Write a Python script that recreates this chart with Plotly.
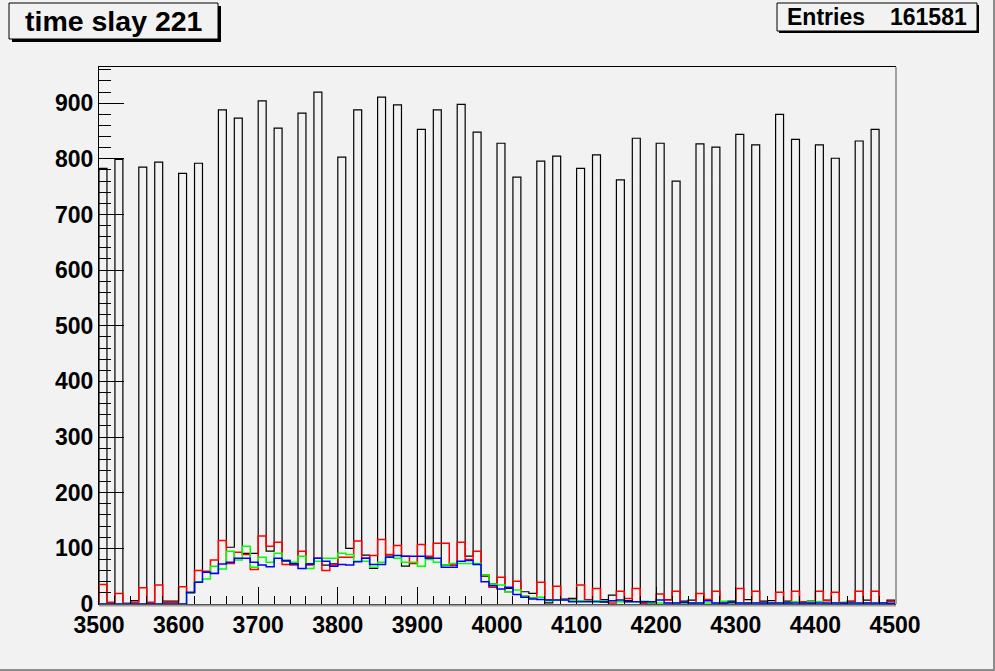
import numpy as np
import plotly.graph_objects as go

# ---------------- data ----------------
bin_start = 3500
bin_width = 10
n_bins = 100

black_counts = [783, 2, 799, 1, 6, 785, 1, 794, 5, 5,
                774, 20, 792, 57, 55, 888, 102, 873, 91, 91,
                904, 95, 855, 77, 73, 882, 72, 920, 70, 72,
                803, 100, 888, 88, 64, 911, 86, 897, 68, 73,
                853, 84, 888, 70, 70, 898, 86, 848, 50, 36,
                828, 28, 767, 22, 19, 796, 2, 805, 9, 10,
                783, 8, 807, 8, 16, 762, 6, 837, 2, 1,
                828, 8, 760, 5, 7, 827, 7, 821, 4, 5,
                844, 8, 825, 5, 6, 880, 5, 835, 1, 5,
                825, 7, 801, 1, 5, 832, 7, 853, 1, 7]

red_counts = [35, 3, 19, 1, 3, 29, 3, 34, 3, 3,
              31, 20, 60, 59, 79, 114, 73, 93, 89, 62,
              122, 104, 111, 71, 70, 95, 70, 82, 60, 70,
              84, 84, 113, 82, 87, 116, 89, 105, 86, 73,
              107, 86, 109, 109, 70, 111, 80, 95, 52, 30,
              48, 22, 41, 14, 11, 39, 7, 32, 8, 8,
              34, 7, 28, 3, 2, 23, 10, 28, 2, 2,
              18, 7, 23, 2, 1, 19, 8, 23, 1, 1,
              28, 1, 23, 1, 1, 21, 2, 23, 4, 1,
              23, 6, 21, 1, 4, 23, 2, 23, 1, 4]

green_counts = [0, 0, 0, 0, 0, 0, 0, 0, 0, 0,
                0, 20, 40, 45, 68, 63, 95, 79, 104, 66,
                84, 75, 91, 78, 75, 86, 64, 77, 82, 82,
                91, 89, 77, 77, 66, 75, 84, 82, 75, 75,
                68, 80, 75, 70, 73, 73, 73, 73, 52, 36,
                34, 22, 25, 14, 11, 12, 6, 7, 7, 7,
                6, 5, 6, 6, 6, 4, 4, 4, 5, 2,
                2, 2, 2, 2, 2, 2, 2, 2, 5, 2,
                2, 2, 2, 1, 2, 2, 2, 4, 2, 4,
                4, 1, 2, 3, 2, 1, 1, 1, 1, 1]

blue_counts = [0, 0, 0, 0, 0, 0, 0, 0, 0, 0,
               0, 21, 39, 57, 55, 72, 75, 82, 82, 75,
               70, 67, 82, 78, 72, 64, 72, 82, 77, 68,
               71, 70, 76, 82, 71, 71, 84, 87, 86, 86,
               86, 82, 82, 66, 66, 77, 78, 71, 40, 33,
               27, 30, 17, 12, 9, 8, 7, 7, 7, 4,
               4, 4, 4, 4, 6, 7, 4, 4, 4, 4,
               7, 2, 2, 3, 2, 2, 6, 2, 2, 3,
               2, 2, 2, 2, 2, 2, 2, 2, 2, 2,
               2, 2, 2, 2, 2, 2, 2, 2, 2, 1]

title_text = "time slay 221"
entries_label = "Entries"
entries_value = "161581"
x_ticks = list(range(3500, 4501, 100))
y_ticks = list(range(0, 901, 100))

# ---------------- figure ----------------
edges = bin_start + bin_width * np.arange(n_bins + 1)


def step_xy(counts):
    c = list(counts)
    xs = [edges[0]] + list(edges[:-1]) + [edges[-1], edges[-1]]
    ys = [0] + c + [c[-1], 0]
    return xs, ys


BG = "#f2f2f2"
fig = go.Figure()
for counts, color, w in [(black_counts, "black", 1.2),
                         (red_counts, "#ff0000", 1.5),
                         (green_counts, "#00ff00", 1.5),
                         (blue_counts, "#0000ff", 1.5)]:
    xs, ys = step_xy(counts)
    fig.add_trace(go.Scatter(x=xs, y=ys, mode="lines", line_shape="hv",
                             line=dict(color=color, width=w),
                             hoverinfo="skip", showlegend=False))

W, H = 995, 671
L, R, T, B = 99, 100, 67, 67
pw, ph = W - L - R, H - T - B


def px(xp):
    return (xp - L) / pw


def py(yp):
    return (H - B - yp) / ph


FAM = "Liberation Sans, Arial, sans-serif"
tick_font = dict(family=FAM, size=23, color="black", weight="bold")

fig.update_layout(
    width=W, height=H,
    margin=dict(l=L, r=R, t=T, b=B, pad=0),
    paper_bgcolor=BG, plot_bgcolor=BG,
    xaxis=dict(range=[3500, 4500], tickvals=x_ticks, ticktext=[str(v) for v in x_ticks],
               ticks="inside", ticklen=17, tickwidth=1, tickcolor="black",
               minor=dict(dtick=20, ticks="inside", ticklen=8, tickcolor="black", tickwidth=1),
               showline=True, linecolor="black", linewidth=1, mirror=True,
               showgrid=False, zeroline=False, tickfont=tick_font),
    yaxis=dict(range=[0, 965], tickvals=y_ticks, ticktext=[str(v) for v in y_ticks],
               ticks="inside", ticklen=25, tickwidth=1, tickcolor="black",
               minor=dict(dtick=20, ticks="inside", ticklen=12, tickcolor="black", tickwidth=1),
               showline=True, linecolor="black", linewidth=1, mirror=True,
               showgrid=False, zeroline=False, tickfont=tick_font),
)

shapes = []
# title box shadow + box
shapes.append(dict(type="rect", xref="paper", yref="paper",
                   x0=px(12), x1=px(221), y0=py(6), y1=py(42),
                   fillcolor="black", line=dict(width=0), layer="above"))
shapes.append(dict(type="rect", xref="paper", yref="paper",
                   x0=px(9), x1=px(218), y0=py(3), y1=py(39),
                   fillcolor=BG, line=dict(color="black", width=1), layer="above"))
# stats box shadow + box
shapes.append(dict(type="rect", xref="paper", yref="paper",
                   x0=px(779), x1=px(979), y0=py(5), y1=py(33),
                   fillcolor="black", line=dict(width=0), layer="above"))
shapes.append(dict(type="rect", xref="paper", yref="paper",
                   x0=px(777), x1=px(977), y0=py(3), y1=py(31),
                   fillcolor=BG, line=dict(color="black", width=1), layer="above"))
# frame bevel (right and bottom)
shapes.append(dict(type="line", xref="paper", yref="paper",
                   x0=px(896), x1=px(896), y0=py(604), y1=py(67),
                   line=dict(color="#a0a0a0", width=2)))
shapes.append(dict(type="line", xref="paper", yref="paper",
                   x0=px(99), x1=px(896), y0=py(605.5), y1=py(605.5),
                   line=dict(color="#a0a0a0", width=2)))
# canvas border
shapes.append(dict(type="line", xref="paper", yref="paper",
                   x0=px(994), x1=px(994), y0=py(0), y1=py(671),
                   line=dict(color="#8c8c8c", width=2)))
shapes.append(dict(type="line", xref="paper", yref="paper",
                   x0=px(0), x1=px(995), y0=py(670), y1=py(670),
                   line=dict(color="#8c8c8c", width=2)))
fig.update_layout(shapes=shapes)

fig.add_annotation(x=px(114), y=py(21), xref="paper", yref="paper",
                   text=title_text, showarrow=False, xanchor="center", yanchor="middle",
                   font=dict(family=FAM, size=28.5, color="black", weight="bold"))
fig.add_annotation(x=px(785), y=py(17), xref="paper", yref="paper",
                   text=entries_label, showarrow=False, xanchor="left", yanchor="middle",
                   font=dict(family=FAM, size=23, color="black", weight="bold"))
fig.add_annotation(x=px(969), y=py(17), xref="paper", yref="paper",
                   text=entries_value, showarrow=False, xanchor="right", yanchor="middle",
                   font=dict(family=FAM, size=23, color="black", weight="bold"))

fig.write_html("out.html", config={"displayModeBar": False},
               post_script="document.body.style.margin='0';document.body.style.overflow='hidden';")
